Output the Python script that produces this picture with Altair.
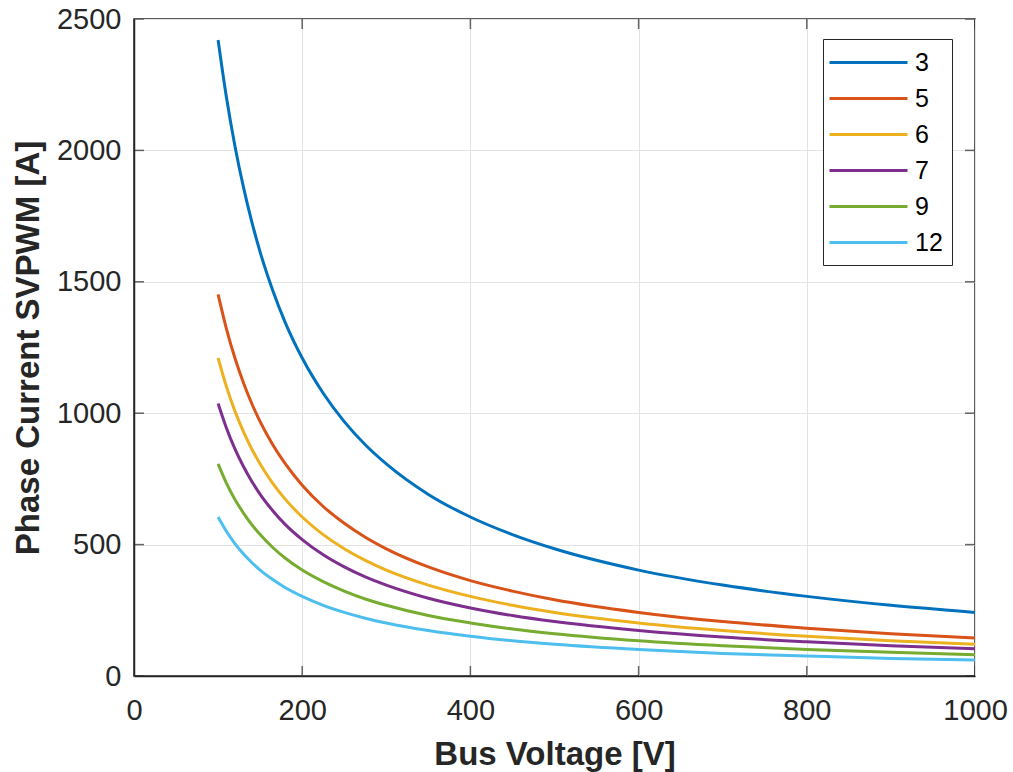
import altair as alt
import pandas as pd

voltage = [100, 110, 120, 130, 140, 150, 165, 180, 200, 225, 250, 275, 300, 350, 400, 450, 500, 600, 700, 800, 900, 1000]
cur_3 = [2420, 2200, 2017, 1862, 1729, 1613, 1467, 1344, 1210, 1076, 968, 880, 807, 691, 605, 538, 484, 403, 346, 303, 269, 242]
cur_5 = [1452, 1320, 1210, 1117, 1037, 968, 880, 807, 726, 645, 581, 528, 484, 415, 363, 323, 290, 242, 207, 182, 161, 145]
cur_6 = [1210, 1100, 1008, 931, 864, 807, 733, 672, 605, 538, 484, 440, 403, 346, 303, 269, 242, 202, 173, 151, 134, 121]
cur_7 = [1037, 943, 864, 798, 741, 691, 629, 576, 519, 461, 415, 377, 346, 296, 259, 230, 207, 173, 148, 130, 115, 104]
cur_9 = [807, 733, 672, 621, 576, 538, 489, 448, 403, 359, 323, 293, 269, 230, 202, 179, 161, 134, 115, 101, 90, 81]
cur_12 = [605, 550, 504, 465, 432, 403, 367, 336, 303, 269, 242, 220, 202, 173, 151, 134, 121, 101, 86, 76, 67, 61]

series_names = ["3", "5", "6", "7", "9", "12"]
series_vals = [cur_3, cur_5, cur_6, cur_7, cur_9, cur_12]
colors = ["#0072BD", "#D95319", "#EDB120", "#7E2F8E", "#77AC30", "#4DBEEE"]

x_ticks = [0, 200, 400, 600, 800, 1000]
y_ticks = [0, 500, 1000, 1500, 2000, 2500]

rows = []
for name, vals in zip(series_names, series_vals):
    for v, c in zip(voltage, vals):
        rows.append({"V": v, "I": c, "n": name})
df = pd.DataFrame(rows)

xt = pd.DataFrame([{"V": t, "I": y} for t in x_ticks for y in (y_ticks[0], y_ticks[-1])])
yt = pd.DataFrame([{"V": x, "I": t} for t in y_ticks for x in (x_ticks[0], x_ticks[-1])])

FONT = "Liberation Sans"
xscale = alt.Scale(domain=[0, 1000], nice=False, zero=False)
yscale = alt.Scale(domain=[0, 2500], nice=False, zero=False)

lines = alt.Chart(df).mark_line(strokeWidth=3, interpolate="monotone").encode(
    x=alt.X("V:Q", scale=xscale, title="Bus Voltage [V]",
            axis=alt.Axis(values=x_ticks, format="d", tickSize=0, labelPadding=20,
                          labelFlush=False, titlePadding=13, grid=True)),
    y=alt.Y("I:Q", scale=yscale, title="Phase Current SVPWM [A]",
            axis=alt.Axis(values=y_ticks, format="d", tickSize=0, labelPadding=13,
                          labelFlush=False, titlePadding=11, grid=True)),
    color=alt.Color("n:N", sort=series_names,
                    scale=alt.Scale(domain=series_names, range=colors),
                    legend=alt.Legend(title=None, orient="none", legendX=689, legendY=20,
                                      symbolType="M-3,0H3", symbolSize=676, symbolStrokeWidth=3,
                                      symbolOffset=22,
                                      labelFontSize=25, labelFont=FONT, labelColor="#000000",
                                      rowPadding=8, padding=9, strokeColor="#262626",
                                      fillColor="#ffffff", labelOffset=32)),
)

xticks_layer = alt.Chart(xt).mark_tick(orient="vertical", size=20, thickness=1.5,
                                       color="#262626", clip=True).encode(
    x=alt.X("V:Q", scale=xscale), y=alt.Y("I:Q", scale=yscale))
yticks_layer = alt.Chart(yt).mark_tick(orient="horizontal", size=20, thickness=1.5,
                                       color="#262626", clip=True).encode(
    x=alt.X("V:Q", scale=xscale), y=alt.Y("I:Q", scale=yscale))

chart = alt.layer(lines, xticks_layer, yticks_layer).properties(
    width=841, height=657,
    autosize=alt.AutoSizeParams(type="none"),
    padding={"left": 134, "top": 19, "right": 38, "bottom": 96},
    background="#ffffff",
).configure_view(stroke="#262626", strokeWidth=1.5).configure_axis(
    labelFont=FONT, labelFontSize=29, labelColor="#262626",
    titleFont=FONT, titleFontSize=33, titleFontWeight="bold", titleColor="#262626",
    domainColor="#262626", domainWidth=1.5, gridColor="#e3e3e3", gridWidth=1,
)

chart.save("out.html", embed_options={"renderer": "svg", "actions": False})
